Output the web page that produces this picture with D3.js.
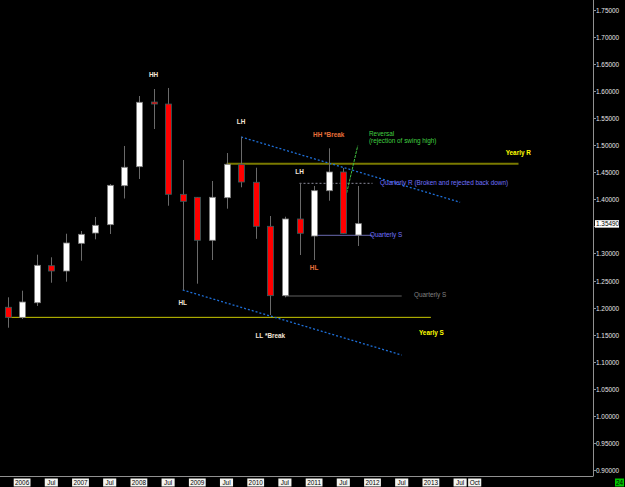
<!DOCTYPE html>
<meta charset="utf-8">
<head>
  <style>
    body { margin: 0; background: #000; }
    text { font-family: "Liberation Sans", Arial, sans-serif; }
  </style>
  <script src="https://cdn.jsdelivr.net/npm/d3@7"></script>
</head>
<body>
<script>
  // quarterly candles, Q4 2005 .. Q4 2011
  var quarters = ["2005Q4","2006Q1","2006Q2","2006Q3","2006Q4","2007Q1","2007Q2","2007Q3","2007Q4",
    "2008Q1","2008Q2","2008Q3","2008Q4","2009Q1","2009Q2","2009Q3","2009Q4","2010Q1","2010Q2",
    "2010Q3","2010Q4","2011Q1","2011Q2","2011Q3","2011Q4"];
  var open  = [1.2006,1.1820,1.2090,1.2773,1.2675,1.3186,1.3376,1.3530,1.4249,1.4600,1.5793,1.5756,1.4090,
    1.4035,1.3242,1.4028,1.4644,1.4312,1.3500,1.2220,1.3635,1.3321,1.4157,1.4502,1.3339];
  var high  = [1.2190,1.2312,1.2976,1.2928,1.3363,1.3413,1.3672,1.4280,1.4982,1.5904,1.6033,1.6052,1.4723,
    1.4040,1.4336,1.4852,1.5148,1.4581,1.3690,1.3677,1.4293,1.4244,1.4939,1.4576,1.4244];
  var low   = [1.1629,1.1790,1.2030,1.2459,1.2478,1.2865,1.3260,1.3358,1.4013,1.4373,1.5295,1.3880,1.2325,
    1.2441,1.2878,1.3825,1.4220,1.3269,1.1863,1.2190,1.2970,1.2878,1.3972,1.3360,1.3137];
  var close = [1.1820,1.2103,1.2780,1.2675,1.3192,1.3352,1.3518,1.4256,1.4589,1.5788,1.5756,1.4090,1.3961,
    1.3242,1.4035,1.4644,1.4317,1.3500,1.2220,1.3635,1.3371,1.4157,1.4502,1.3367,1.3549];

  var priceTicks = d3.range(0.90, 1.7501, 0.05);
  var timeLabels = ["2006","Jul","2007","Jul","2008","Jul","2009","Jul","2010","Jul","2011","Jul","2012","Jul","2013","Jul","Oct"];
  var timeIndex  = [1,3,5,7,9,11,13,15,17,19,21,23,25,27,29,31,32];
  var lastPrice = 1.35490;

  // levels: [from index, to index, price]
  var yearlyR = [15, 35, 1.4655];
  var yearlyS = [0, 29, 1.1820];
  var quarterlyR = [20, 25, 1.4293];
  var quarterlyS = [21, 25, 1.3334];
  var quarterlyS2 = [19, 27, 1.2214];
  // trend lines: [i0, p0, i1, p1]
  var trendUpper = [16, 1.5148, 31, 1.3943];
  var trendLower = [12, 1.2325, 27, 1.1125];
  var reversalLine = [23.23, 1.4113, 23.99, 1.4987];

  // annotations: [text, index, price, colour, anchor]
  var notes = [
    ["HH", 10, 1.6292, "#f4e6d8", "middle"],
    ["LH", 16, 1.5430, "#f4e6d8", "middle"],
    ["HL", 12, 1.2098, "#f4e6d8", "middle"],
    ["LL *Break", 18, 1.1476, "#f4e6d8", "middle"],
    ["HH *Break", 22, 1.5185, "#e8703a", "middle"],
    ["LH", 20, 1.4515, "#f4e6d8", "middle"],
    ["HL", 21, 1.2736, "#e8703a", "middle"],
    ["Reversal", 24.76, 1.5216, "#40d040", "start"],
    ["(rejection of swing high)", 24.76, 1.5079, "#40d040", "start"],
    ["Yearly R", 34.12, 1.4865, "#ffff00", "start"],
    ["Quarterly R (Broken and rejected back down)", 25.51, 1.4312, "#7070ff", "start"],
    ["Quarterly S", 24.83, 1.3345, "#7070ff", "start"],
    ["Quarterly S", 27.84, 1.2245, "#808080", "start"],
    ["Yearly S", 28.18, 1.1544, "#ffff00", "start"]
  ];

  var W = 625, H = 487, axisX = 593, axisY = 476;

  var x = d3.scaleLinear().domain([0, 33]).range([7.5, 7.5 + 14.6 * 33]);
  var y = d3.scaleLinear().domain([0.90, 1.75]).range([470.2, 9.5]);

  const svg = d3.select("body").append("svg")
    .attr("width", W)
    .attr("height", H)
    .style("background-color", "#000");

  // axes frame
  svg.append("line").attr("x1", axisX + 0.5).attr("x2", axisX + 0.5).attr("y1", 0).attr("y2", axisY)
    .attr("stroke", "#909090");
  svg.append("line").attr("x1", 0).attr("x2", axisX + 0.5).attr("y1", axisY + 0.5).attr("y2", axisY + 0.5)
    .attr("stroke", "#909090");

  // price axis (the label under the last-price box is hidden, as in the terminal)
  var pt = svg.append("g").selectAll("g").data(priceTicks).enter().append("g")
    .attr("transform", function(d) { return "translate(0," + Math.round(y(d)) + ")"; });
  pt.append("line").attr("x1", axisX).attr("x2", axisX + 3).attr("y1", 0.5).attr("y2", 0.5).attr("stroke", "#909090");
  pt.filter(function(d) { return Math.abs(y(d) - y(lastPrice)) > 8; })
    .append("text").attr("x", axisX + 3).attr("y", 2.5)
    .attr("fill", "#e8e8e8").style("font-size", "6.4px")
    .text(function(d) { return d3.format(".5f")(d); });

  // last price marker
  svg.append("rect").attr("x", 595).attr("y", y(lastPrice) - 3.5).attr("width", 24).attr("height", 7.5)
    .attr("fill", "#fff");
  svg.append("text").attr("x", 596).attr("y", y(lastPrice) + 2.3)
    .attr("fill", "#000").style("font-size", "6.4px").text(d3.format(".5f")(lastPrice));

  // time axis
  var tl = svg.append("g").selectAll("g").data(timeLabels).enter().append("g")
    .attr("transform", function(d, i) { return "translate(" + x(timeIndex[i]) + ",0)"; });
  tl.append("rect")
    .attr("x", function(d) { return -d.length * 1.85 - 1; })
    .attr("y", 478.5)
    .attr("width", function(d) { return d.length * 3.7 + 2; })
    .attr("height", 8)
    .attr("fill", "#f4f4f0");
  tl.append("text").attr("y", 485).attr("text-anchor", "middle")
    .attr("fill", "#000").style("font-size", "6.4px").text(function(d) { return d; });

  svg.append("rect").attr("x", 615).attr("y", 478.5).attr("width", 9).attr("height", 8).attr("fill", "#00c800");
  svg.append("text").attr("x", 619.5).attr("y", 485).attr("text-anchor", "middle")
    .attr("fill", "#000").style("font-size", "6.4px").text("24");

  // levels
  function level(l, colour, width, dash) {
    svg.append("line")
      .attr("x1", x(l[0])).attr("x2", x(l[1]))
      .attr("y1", y(l[2])).attr("y2", y(l[2]))
      .attr("stroke", colour).attr("stroke-width", width)
      .attr("stroke-dasharray", dash);
  }
  level(yearlyR, "#7a7a00", 2, null);
  level(yearlyS, "#c8c800", 1, null);
  level(quarterlyR, "#8a8a9a", 1, "2,2");
  level(quarterlyS, "#6a6ab0", 1, null);
  level(quarterlyS2, "#606060", 1, null);

  // trend lines
  function seg(t, colour, width, dash) {
    svg.append("line")
      .attr("x1", x(t[0])).attr("y1", y(t[1]))
      .attr("x2", x(t[2])).attr("y2", y(t[3]))
      .attr("stroke", colour).attr("stroke-width", width)
      .attr("stroke-dasharray", dash);
  }
  seg(trendUpper, "#1e6fd8", 1.3, "2,2");
  seg(trendLower, "#1e6fd8", 1.3, "2,2");
  seg(reversalLine, "#40c040", 1, "3,1");

  // candles
  var candles = quarters.map(function(q, i) {
    return {q: q, i: i, o: open[i], h: high[i], l: low[i], c: close[i]};
  });
  var cg = svg.append("g").selectAll("g").data(candles).enter().append("g")
    .attr("transform", function(d) { return "translate(" + Math.round(x(d.i)) + ",0)"; });
  cg.append("line")
    .attr("x1", 0.5).attr("x2", 0.5)
    .attr("y1", function(d) { return y(d.h); })
    .attr("y2", function(d) { return y(d.l); })
    .attr("stroke", "#6a6a6a");
  cg.append("rect")
    .attr("x", -2.5)
    .attr("width", 6)
    .attr("y", function(d) { return y(Math.max(d.o, d.c)); })
    .attr("height", function(d) { return Math.max(1.5, Math.abs(y(d.o) - y(d.c))); })
    .attr("fill", function(d) { return d.c >= d.o ? "#ffffff" : "#ff0000"; })
    .attr("stroke", function(d) { return d.c >= d.o ? "#7a7a7a" : "#2f5f5f"; })
    .attr("stroke-width", 0.8);

  // annotations
  svg.append("g").selectAll("text").data(notes).enter().append("text")
    .attr("x", function(d) { return x(d[1]); })
    .attr("y", function(d) { return y(d[2]) + 2.3; })
    .attr("text-anchor", function(d) { return d[4]; })
    .attr("fill", function(d) { return d[3]; })
    .style("font-size", "6.4px")
    .style("font-weight", function(d) { return d[0].length < 10 && d[0] != "Reversal" ? "bold" : "normal"; })
    .text(function(d) { return d[0]; });
</script>
</body>
</html>
